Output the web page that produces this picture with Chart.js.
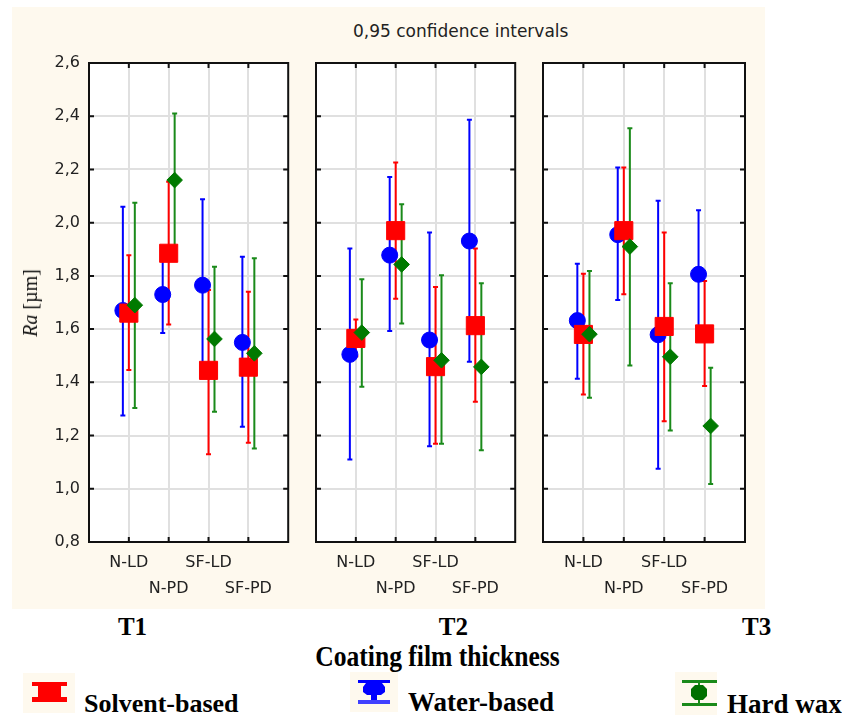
<!DOCTYPE html>
<html><head><meta charset="utf-8">
<script src="https://cdn.jsdelivr.net/npm/chart.js@4.4.0/dist/chart.umd.min.js"></script>
<style>
html,body{margin:0;padding:0;background:#fff;width:842px;height:718px;overflow:hidden;position:relative;}
#bg{position:absolute;left:12px;top:7px;width:753px;height:602px;background:#FEF9EE;}
canvas{position:absolute;}
.t{position:absolute;white-space:nowrap;line-height:1;}
.serif{font-family:"Liberation Serif","Times New Roman",serif;font-weight:bold;color:#000;}
.ctr{text-align:center;width:200px;}
svg{position:absolute;}
</style></head><body>
<div id="bg"></div>
<div class="t" style="left:353px;top:22.6px;font-family:'DejaVu Sans';font-size:17px;color:#222;">0,95 confidence intervals</div>
<canvas id="c1" width="290" height="602" style="left:12px;top:7px"></canvas>
<canvas id="c2" width="227" height="602" style="left:302px;top:7px"></canvas>
<canvas id="c3" width="236" height="602" style="left:529px;top:7px"></canvas>
<div class="t" style="left:30px;top:303px;transform:translate(-50%,-50%) rotate(-90deg);font-family:'Liberation Serif',serif;font-size:20px;color:#111;"><i>Ra</i> [µm]</div>

<div class="t serif ctr" id="p1" style="left:32.5px;top:614.1px;font-size:25px;"></div>
<div class="t serif ctr" id="p2" style="left:353.3px;top:614.1px;font-size:25px;"></div>
<div class="t serif ctr" id="p3" style="left:656.7px;top:614.1px;font-size:25px;"></div>
<div class="t serif" style="left:237.5px;width:400px;text-align:center;top:645.3px;font-size:25.6px;transform:scaleY(1.15);transform-origin:50% 83.75%;">Coating film thickness</div>

<svg style="left:23px;top:673px" width="52" height="40"><rect width="52" height="40" fill="#FEF9EE"/>
<rect x="9" y="9" width="35" height="4" fill="#ff0000"/><rect x="15" y="12" width="23" height="13" fill="#ff0000"/><rect x="9" y="24" width="35" height="5" fill="#ff0000"/></svg>
<div class="t serif" style="left:84px;top:691.2px;font-size:26px;">Solvent-based</div>

<svg style="left:350px;top:672px" width="48" height="40"><rect width="48" height="40" fill="#FEF9EE"/>
<rect x="8" y="8" width="32" height="3" fill="#0000ff"/><path d="M16 11 H32 L35 15 V20 L31 23 H17 L13 20 V15 Z" fill="#0000ff"/><rect x="21" y="22" width="6" height="6" fill="#0000ff"/><rect x="8" y="28" width="32" height="4" fill="#4040ff"/></svg>
<div class="t serif" style="left:408px;top:689.1px;font-size:27px;">Water-based</div>

<svg style="left:675px;top:672px" width="42" height="43"><rect width="42" height="43" fill="#FEF9EE"/>
<rect x="7" y="8" width="35" height="3" fill="#1a8a1a"/><rect x="23" y="9" width="2" height="24" fill="#1a8a1a"/><path d="M20 13 H28 L32 17 V24 L28 28 H20 L16 24 V17 Z" fill="#007000"/><rect x="7" y="31" width="35" height="3" fill="#1a8a1a"/></svg>
<div class="t serif" style="left:727px;top:690.7px;font-size:27px;">Hard wax</div>

<script>
const panels = ['T1', 'T2', 'T3'];
const categories = ['N-LD', 'N-PD', 'SF-LD', 'SF-PD'];
const yTickMin = 0.8, yTickMax = 2.6, yTickStep = 0.2;

// Solvent-based (red)
const solventMean  = [[1.66, 1.885, 1.445, 1.457], [1.565, 1.97, 1.459, 1.613], [1.58, 1.97, 1.61, 1.582]];
const solventLower = [[1.446, 1.617, 1.13, 1.173], [1.498, 1.714, 1.169, 1.327], [1.354, 1.731, 1.254, 1.386]];
const solventUpper = [[1.878, 2.154, 1.747, 1.74], [1.636, 2.226, 1.758, 1.903], [1.808, 2.207, 1.963, 1.781]];
// Water-based (blue)
const waterMean  = [[1.67, 1.73, 1.765, 1.55], [1.505, 1.878, 1.559, 1.931], [1.632, 1.955, 1.579, 1.806]];
const waterLower = [[1.275, 1.585, 1.44, 1.233], [1.11, 1.593, 1.16, 1.477], [1.413, 1.709, 1.075, 1.59]];
const waterUpper = [[2.06, 1.87, 2.088, 1.872], [1.903, 2.172, 1.963, 2.387], [1.846, 2.207, 2.082, 2.047]];
// Hard wax (green)
const waxMean  = [[1.69, 2.16, 1.563, 1.509], [1.587, 1.843, 1.483, 1.458], [1.581, 1.91, 1.496, 1.236]];
const waxLower = [[1.304, 1.91, 1.289, 1.151], [1.383, 1.621, 1.169, 1.145], [1.342, 1.463, 1.219, 1.018]];
const waxUpper = [[2.075, 2.41, 1.834, 1.866], [1.787, 2.069, 1.802, 1.772], [1.818, 2.355, 1.772, 1.455]];

panels.forEach((p, i) => { document.getElementById('p' + (i + 1)).textContent = p; });

const errorBarPlugin = {
  id: 'errorBars',
  beforeDraw(chart) {
    const a = chart.chartArea, ctx = chart.ctx;
    ctx.save(); ctx.fillStyle = '#ffffff';
    ctx.fillRect(a.left, a.top, a.right - a.left, a.bottom - a.top);
    ctx.restore();
  },
  beforeDatasetsDraw(chart) {
    const ctx = chart.ctx, xs = chart.scales.x, ys = chart.scales.y;
    ctx.save();
    chart.data.datasets.forEach(ds => {
      ctx.strokeStyle = ds.barColor; ctx.lineWidth = 2;
      ds.data.forEach((pt, k) => {
        const x = xs.getPixelForValue(pt.x);
        const y1 = ys.getPixelForValue(ds.errLow[k]);
        const y2 = ys.getPixelForValue(ds.errHigh[k]);
        ctx.beginPath();
        ctx.moveTo(x, y1); ctx.lineTo(x, y2);
        ctx.moveTo(x - 2.5, y1); ctx.lineTo(x + 2.5, y1);
        ctx.moveTo(x - 2.5, y2); ctx.lineTo(x + 2.5, y2);
        ctx.stroke();
      });
    });
    ctx.restore();
  },
  afterDraw(chart) {
    const a = chart.chartArea, ctx = chart.ctx, xs = chart.scales.x, ys = chart.scales.y;
    ctx.save();
    ctx.strokeStyle = '#111'; ctx.lineWidth = 2;
    ctx.beginPath();
    ys.ticks.forEach(t => {
      if (t.value <= ys.min + 1e-6 || t.value >= ys.max - 1e-6) return;
      const y = ys.getPixelForValue(t.value);
      ctx.moveTo(a.left, y); ctx.lineTo(a.left + 5, y);
      ctx.moveTo(a.right, y); ctx.lineTo(a.right - 5, y);
    });
    xs.ticks.forEach(t => {
      const x = xs.getPixelForValue(t.value);
      ctx.moveTo(x, a.top); ctx.lineTo(x, a.top + 5);
      ctx.moveTo(x, a.bottom); ctx.lineTo(x, a.bottom - 5);
    });
    ctx.stroke();
    ctx.strokeRect(a.left, a.top, a.right - a.left, a.bottom - a.top);
    ctx.restore();
  }
};

function makeDataset(label, mean, lower, upper, offset, color, barColor, style, radius, order) {
  return {
    label, order,
    data: mean.map((v, k) => ({ x: k + 1 + offset, y: v })),
    errLow: lower, errHigh: upper,
    barColor,
    pointStyle: style, pointRadius: radius, pointHoverRadius: radius,
    backgroundColor: color, borderColor: color, pointBorderWidth: 1,
    showLine: false
  };
}

function makePanel(id, pi, showY, areaLeft, areaRight, canvasW) {
  const padLeft = showY ? 0 : areaLeft;
  const yWidth = showY ? areaLeft : 0;
  new Chart(document.getElementById(id), {
    type: 'scatter',
    data: {
      datasets: [
        makeDataset('Water-based', waterMean[pi], waterLower[pi], waterUpper[pi], -0.15, '#0000ff', '#0000ff', 'circle', 8, 3),
        makeDataset('Solvent-based', solventMean[pi], solventLower[pi], solventUpper[pi], 0, '#ff0000', '#ff0000', 'rect', 12.8, 2),
        makeDataset('Hard wax', waxMean[pi], waxLower[pi], waxUpper[pi], 0.15, '#007a00', '#1a8a1a', 'rectRot', 7.8, 1)
      ]
    },
    options: {
      responsive: false, animation: false, events: [], devicePixelRatio: 1,
      layout: { padding: { left: padLeft, right: canvasW - areaRight, top: 56, bottom: 0 } },
      plugins: { legend: { display: false }, tooltip: { enabled: false } },
      scales: {
        x: {
          type: 'linear', min: 0, max: 5,
          afterBuildTicks: s => { s.ticks = categories.map((c, k) => ({ value: k + 1 })); },
          afterFit: s => { s.height = 67; },
          grid: { color: '#e0e0e0', lineWidth: 2, drawTicks: false },
          border: { display: false },
          ticks: {
            autoSkip: false, maxRotation: 0, padding: 8, color: '#222',
            font: { family: 'DejaVu Sans', size: 16, lineHeight: 1.625 },
            callback: v => {
              const k = Math.round(v) - 1;
              const lab = categories[k];
              if (lab === undefined) return null;
              return k % 2 === 0 ? [lab, ''] : ['', lab];
            }
          }
        },
        y: {
          type: 'linear', min: yTickMin, max: yTickMax,
          afterFit: s => { s.width = yWidth; },
          grid: { color: '#e0e0e0', lineWidth: 2, drawTicks: false },
          border: { display: false },
          ticks: {
            display: showY, stepSize: yTickStep, padding: 9, color: '#222',
            font: { family: 'DejaVu Sans', size: 16 },
            callback: v => v.toFixed(1).replace('.', ',')
          }
        }
      }
    },
    plugins: [errorBarPlugin]
  });
}

makePanel('c1', 0, true, 77, 278, 290);
makePanel('c2', 1, false, 14, 216, 227);
makePanel('c3', 2, false, 14, 216, 236);
</script>
</body></html>
